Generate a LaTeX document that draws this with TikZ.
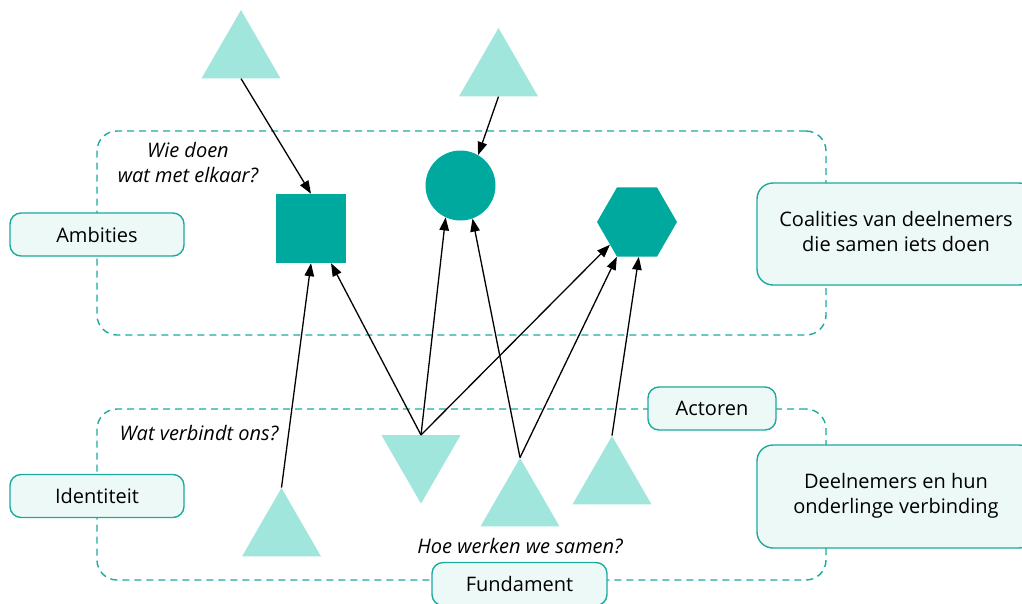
\documentclass[tikz,border=0pt]{standalone}
\usepackage{fontspec}
\setmainfont{Open Sans}[Ligatures=NoCommon]
\usepackage{xcolor}
\usepackage{tikz}
\usetikzlibrary{arrows.meta,positioning,shapes.geometric}

\definecolor{tealdark}{HTML}{00A99D}
\definecolor{teallight}{HTML}{A0E6DD}
\definecolor{tealline}{HTML}{1AAA9E}
\definecolor{tealfill}{HTML}{EDF9F7}

\begin{document}
\begin{tikzpicture}[
  x=1pt, y=-1pt,
  zone/.style={draw=tealline, dash pattern=on 7pt off 5pt, line width=1.4pt,
               rounded corners=20pt, inner sep=0pt},
  tag/.style={draw=tealline, line width=1.4pt, fill=tealfill, rounded corners=#1,
              align=center, inner sep=0pt, font=\fontsize{20}{25}\selectfont},
  tag/.default=11pt,
  vraag/.style={align=center, font=\fontsize{20}{25}\selectfont\itshape},
  drie/.style={regular polygon, regular polygon sides=3, minimum size=91.2pt,
               inner sep=0pt, fill=teallight},
  vorm/.style={inner sep=0pt, fill=tealdark},
  arr/.style={-{Triangle[length=13pt, width=9.5pt]}, line width=1.3pt},
]
\useasboundingbox (0,0) rectangle (1022,603);
% Zones
\node[zone, minimum width=729pt, minimum height=204pt] (boven) at (461.5,233)   {};
\node[zone, minimum width=729pt, minimum height=171pt] (onder) at (461.5,494.5) {};
% Vragen
\node[vraag] (wie)  at (188,163) {Wie doen\\wat met elkaar?};
\node[vraag] (wat)  at (199,433) {Wat verbindt ons?};
\node[vraag] (hoe)  at (520,546) {Hoe werken we samen?};
% Labels
\node[tag, minimum width=174pt, minimum height=43pt] (ambities)   at (97,234.5)  {Ambities};
\node[tag, minimum width=174pt, minimum height=43pt] (identiteit) at (97,496)    {Identiteit};
\node[tag, minimum width=128pt, minimum height=43pt] (actoren)    at (712,408.5) {Actoren};
\node[tag, minimum width=175pt, minimum height=43pt] (fundament)  at (519.5,584) {Fundament};
\node[tag=16pt, minimum width=278pt, minimum height=102pt] (coalities)  at (896,234)
     {Coalities van deelnemers\\die samen iets doen\\[-19pt]};
\node[tag=16pt, minimum width=278pt, minimum height=103pt] (deelnemers) at (896,496.5)
     {Deelnemers en hun\\onderlinge verbinding\\[-19pt]};
% Coalities
\node[vorm, minimum width=70pt, minimum height=69pt] (vierkant) at (311,228.5) {};
\node[vorm, circle, minimum size=70pt]                (cirkel)   at (460.5,185.5) {};
\node[vorm, regular polygon, regular polygon sides=6, minimum size=80pt] (zeshoek) at (637,222) {};
% Deelnemers
\node[drie] (d1) at (241,55.6)  {};
\node[drie] (d2) at (498.5,73.6) {};
\node[drie] (da) at (281.5,533.6) {};
\node[drie, shape border rotate=180] (db) at (421,458) {};
\node[drie] (dc) at (520,503.6) {};
\node[drie] (dd) at (612,481.6) {};
% Pijlen
\draw[arr] (d1.south) -- (vierkant.north);
\draw[arr] (d2.south) -- (cirkel.60);
\draw[arr] (da.north) -- (vierkant.south);
\draw[arr] (db.north) -- (vierkant.-60);
\draw[arr] (db.north) -- (cirkel.-115);
\draw[arr] (db.north) -- (zeshoek.-140);
\draw[arr] (dc.north) -- (cirkel.-70);
\draw[arr] (dc.north) -- (zeshoek.-120);
\draw[arr] (dd.north) -- (zeshoek.-87);
\end{tikzpicture}
\end{document}
